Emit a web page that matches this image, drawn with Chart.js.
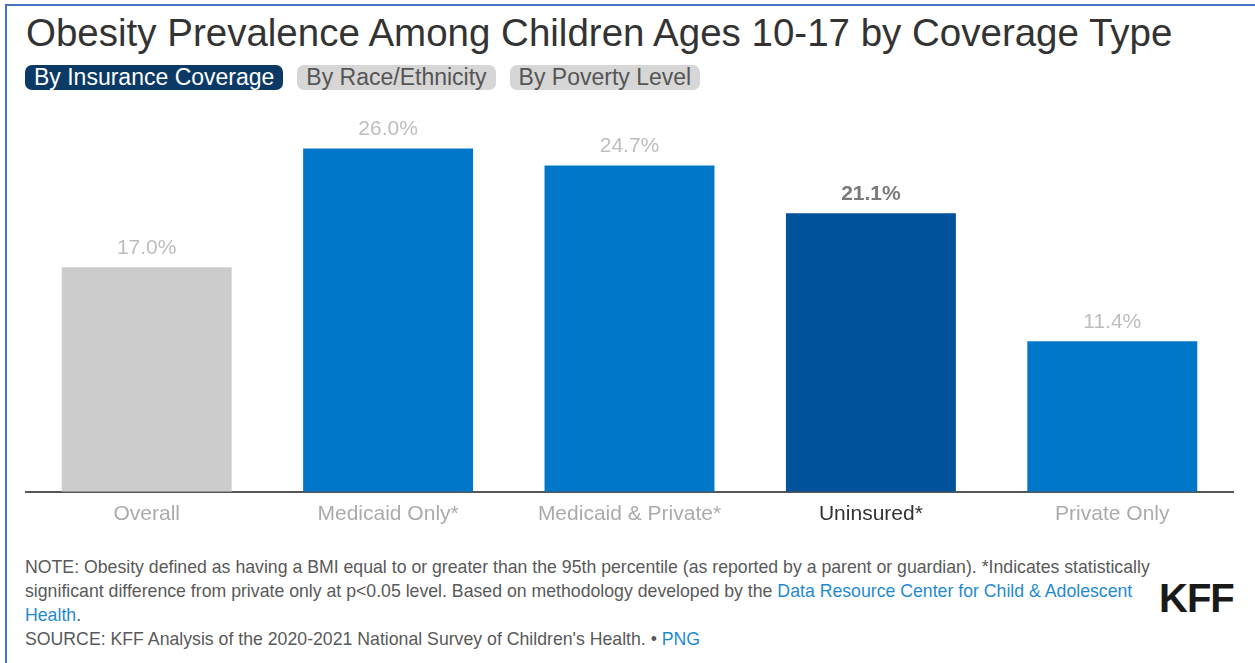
<!DOCTYPE html>
<html>
<head>
<meta charset="utf-8">
<script src="https://cdn.jsdelivr.net/npm/chart.js@4/dist/chart.umd.min.js"></script>
<style>
    body { margin: 0; background: #fff; font-family: 'Liberation Sans', Arial, sans-serif; width: 1255px; height: 663px; overflow: hidden; position: relative; }
    .frame { position: absolute; left: 5px; top: 4px; right: 0; bottom: 0; border-left: 2px solid #4472c4; border-top: 2px solid #4472c4; }
    h1 { position: absolute; left: 26px; top: 11px; margin: 0; font-weight: normal; font-size: 38.5px; color: #333; white-space: nowrap; }
    .tabs { position: absolute; left: 25px; top: 65px; display: flex; gap: 14px; }
    .tab { height: 25px; line-height: 25px; padding: 0 9px; border-radius: 7px; font-size: 23px; background: #d6d6d6; color: #555; white-space: nowrap; }
    .tab.active { background: #0b3a66; color: #fff; }
    .chart-box { position: absolute; left: 0; top: 100px; width: 1255px; height: 436px; }
    .notes { position: absolute; left: 25px; top: 555px; font-size: 17.7px; line-height: 24px; color: #595959; white-space: nowrap; }
    .notes a { color: #1f8ad0; text-decoration: none; }
    .logo { position: absolute; left: 1159px; top: 576px; font-size: 40px; font-weight: bold; color: #1a1a1a; letter-spacing: -1px; }
</style>
</head>
<body>
<div class="frame"></div>
<h1>Obesity Prevalence Among Children Ages 10-17 by Coverage Type</h1>
<div class="tabs">
    <div class="tab active">By Insurance Coverage</div>
    <div class="tab">By Race/Ethnicity</div>
    <div class="tab">By Poverty Level</div>
</div>
<div class="chart-box"><canvas id="chart"></canvas></div>
<div class="notes">
    NOTE: Obesity defined as having a BMI equal to or greater than the 95th percentile (as reported by a parent or guardian). *Indicates statistically<br>
    significant difference from private only at p&lt;0.05 level. Based on methodology developed by the <a>Data Resource Center for Child &amp; Adolescent</a><br>
    <a>Health</a>.<br>
    SOURCE: KFF Analysis of the 2020-2021 National Survey of Children's Health. &bull; <a>PNG</a>
</div>
<div class="logo">KFF</div>
<script>
    const categories = ['Overall', 'Medicaid Only*', 'Medicaid & Private*', 'Uninsured*', 'Private Only'];
    const values = [17.0, 26.0, 24.7, 21.1, 11.4];
    const barColors = ['#cccccc', '#0077c8', '#0077c8', '#00529b', '#0077c8'];
    const highlight = 3; // Uninsured is emphasised

    // --- value labels above each bar ---
    const valueLabels = {
        id: 'valueLabels',
        afterDatasetsDraw(chart) {
            const ctx = chart.ctx;
            const meta = chart.getDatasetMeta(0);
            ctx.save();
            ctx.textAlign = 'center';
            ctx.textBaseline = 'middle';
            meta.data.forEach((bar, i) => {
                const bold = i === highlight;
                ctx.font = (bold ? 'bold ' : '') + '21px "Liberation Sans", Arial, sans-serif';
                ctx.fillStyle = bold ? '#7a7a7a' : '#bdbdbd';
                ctx.fillText(values[i].toFixed(1) + '%', bar.x, bar.y - 19);
            });
            ctx.restore();
        }
    };

    new Chart(document.getElementById('chart'), {
        type: 'bar',
        data: {
            labels: categories,
            datasets: [{
                data: values,
                backgroundColor: barColors,
                barPercentage: 0.704,
                categoryPercentage: 1
            }]
        },
        options: {
            responsive: true,
            maintainAspectRatio: false,
            animation: false,
            layout: { padding: { left: 26, right: 22, top: 22, bottom: 7 } },
            plugins: { legend: { display: false }, tooltip: { enabled: false } },
            scales: {
                x: {
                    grid: { display: false },
                    border: { display: true, color: '#555', width: 2 },
                    ticks: {
                        padding: 2,
                        color: categories.map((c, i) => i === highlight ? '#333' : '#ababab'),
                        font: { family: '"Liberation Sans", Arial, sans-serif', size: 21 }
                    }
                },
                y: { display: false, min: 0, max: 28 }
            }
        },
        plugins: [valueLabels]
    });
</script>
</body>
</html>
